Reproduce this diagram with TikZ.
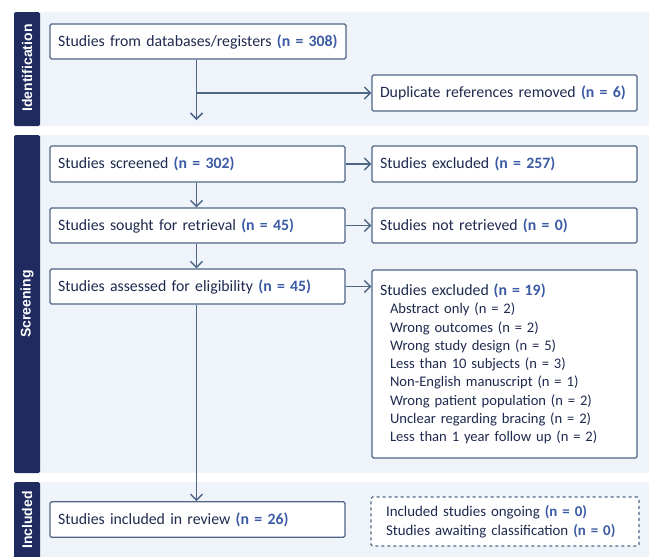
\documentclass[tikz,border=0pt]{standalone}
\usepackage{fontspec}
\setmainfont{Carlito}
\newfontfamily\tabfont{Liberation Sans}
\usetikzlibrary{arrows.meta}
\definecolor{navy}{HTML}{1F2A5E}
\definecolor{bandbg}{HTML}{EFF4FA}
\definecolor{boxline}{HTML}{4F6587}
\definecolor{nblue}{HTML}{3B5BA5}
\definecolor{txt}{HTML}{1F2A4F}
\newcommand{\nn}[1]{\textcolor{nblue}{\bfseries(n = #1)}}
\newcommand{\bigline}{\fontsize{15.8}{18.3}\selectfont}
\tikzset{
  band/.style={fill=bandbg, draw=none},
  tabbox/.style={fill=navy, draw=none, rounded corners=1.5pt},
  tablabel/.style={text=white, font=\tabfont\bfseries\fontsize{14}{16}\selectfont, rotate=90},
  flowbox/.style={draw=boxline, line width=1.2pt, fill=white, rounded corners=1.5pt,
     align=left, text=txt, font=\fontsize{15.8}{18.4}\selectfont, inner xsep=8pt, inner ysep=0pt},
  conn/.style={draw=boxline, line width=1.5pt, -{Straight Barb[length=6pt, width=12pt, line width=1.5pt]}},
}
\begin{document}
\begin{tikzpicture}[x=1pt, y=-1pt]
\useasboundingbox (0,0) rectangle (649,557);
% bands
\fill[band] (40,12) rectangle (649,126);
\fill[band] (40,135) rectangle (649,473);
\fill[band] (40,482) rectangle (649,557);
\fill[tabbox] (14,12) rectangle (40,126);
\fill[tabbox] (14,135) rectangle (40,473);
\fill[tabbox] (14,482) rectangle (40,560);
\node[tablabel] (tI) at (27,68) {Identification};
\node[tablabel] (tS) at (27,304) {Screening};
\node[tablabel] (tC) at (27,520) {Included};
% boxes
\node[flowbox, minimum width=296pt, minimum height=35pt, text width=280pt] (b1) at (198,41.5)
  {Studies from databases/registers \nn{308}};
\node[flowbox, minimum width=265pt, minimum height=36pt, text width=249pt] (dup) at (504.5,93)
  {Duplicate references removed \nn{6}};
\node[flowbox, minimum width=295pt, minimum height=36pt, text width=279pt] (scr) at (197.5,164)
  {Studies screened \nn{302}};
\node[flowbox, minimum width=265pt, minimum height=36pt, text width=249pt] (ex1) at (504.5,164)
  {Studies excluded \nn{257}};
\node[flowbox, minimum width=295pt, minimum height=35pt, text width=279pt] (sou) at (197.5,225.5)
  {Studies sought for retrieval \nn{45}};
\node[flowbox, minimum width=265pt, minimum height=35pt, text width=249pt] (nr) at (504.5,225.5)
  {Studies not retrieved \nn{0}};
\node[flowbox, minimum width=295pt, minimum height=35pt, text width=279pt] (ass) at (197.5,286.5)
  {Studies assessed for eligibility \nn{45}};
\node[flowbox, minimum width=265pt, minimum height=188pt, text width=249pt,
      font=\fontsize{14.6}{18.3}\selectfont] (ex2) at (504.5,364)
  {{\bigline Studies excluded \nn{19}}\\
   \hspace*{10pt}Abstract only (n = 2)\\
   \hspace*{10pt}Wrong outcomes (n = 2)\\
   \hspace*{10pt}Wrong study design (n = 5)\\
   \hspace*{10pt}Less than 10 subjects (n = 3)\\
   \hspace*{10pt}Non-English manuscript (n = 1)\\
   \hspace*{10pt}Wrong patient population (n = 2)\\
   \hspace*{10pt}Unclear regarding bracing (n = 2)\\
   \hspace*{10pt}Less than 1 year follow up (n = 2)\\[2pt]};
\node[flowbox, minimum width=295pt, minimum height=35.5pt, text width=279pt] (inc) at (197.5,519.5)
  {Studies included in review \nn{26}};
\node[flowbox, dashed, minimum width=268pt, minimum height=49pt,
      inner xsep=15pt, text width=238pt, font=\fontsize{14.9}{19.4}\selectfont] (ong) at (505,521.5)
  {Included studies ongoing \nn{0}\\Studies awaiting classification \nn{0}};
% connectors
\coordinate (c1) at (196.5,120);
\draw[boxline, line width=1.5pt] (b1.south -| c1) -- (c1 |- dup.west);
\draw[conn] (b1.south -| c1) -- (c1);
\draw[conn] (c1 |- dup.west) -- (dup.west);
\draw[conn] (scr.south -| c1) -- (sou.north -| c1);
\draw[conn] (sou.south -| c1) -- (ass.north -| c1);
\draw[conn] (scr.east) -- (ex1.west);
\draw[conn] (sou.east) -- (nr.west);
\draw[conn] (ass.east) -- (ass.east -| ex2.west);
\draw[conn] (ass.south -| c1) -- (inc.north -| c1);
\end{tikzpicture}
\end{document}
